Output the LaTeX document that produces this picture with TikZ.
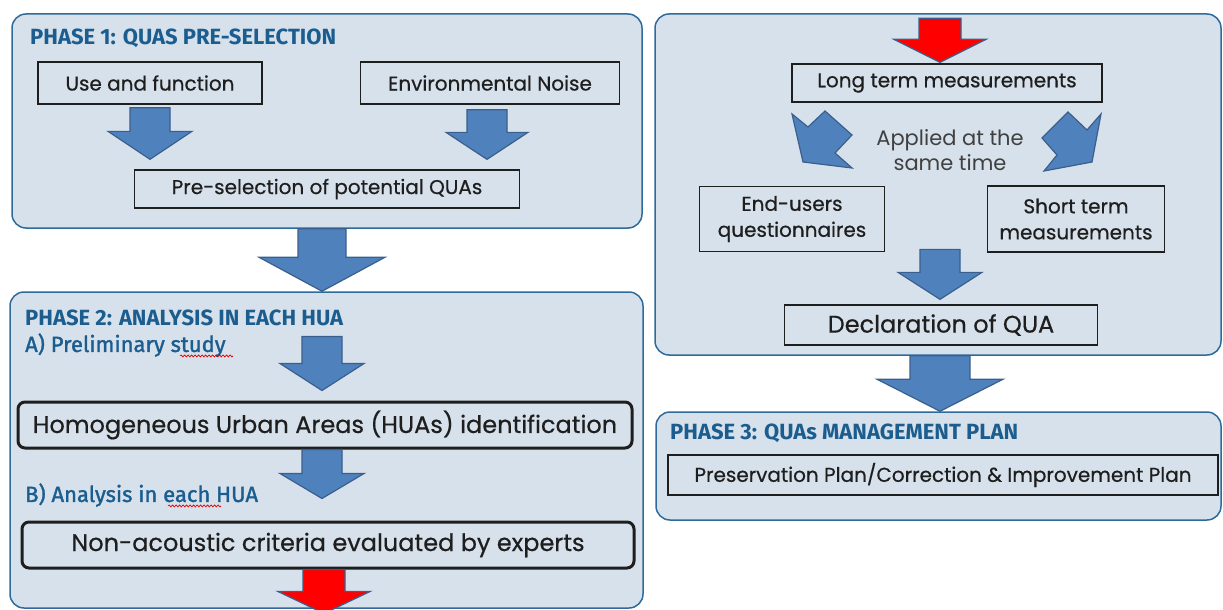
\documentclass[tikz,border=0pt]{standalone}
\usepackage{fontspec}
\setmainfont{Poppins}[FakeBold=0.5]
\newfontfamily\lightfont{Poppins}
\newfontfamily\titlefont{Fira Sans}
\usetikzlibrary{calc,positioning,decorations.pathmorphing}
\definecolor{panelfill}{HTML}{D7E1EB}
\definecolor{panelline}{HTML}{2F6B9A}
\definecolor{titleblue}{HTML}{1C5D8F}
\definecolor{arrblue}{HTML}{4F81BD}
\definecolor{arrline}{HTML}{3A5F8C}
\definecolor{arrred}{HTML}{FF0000}
\definecolor{boxline}{HTML}{1E1E1E}
\tikzset{
    panel/.style ={draw=panelline, fill=panelfill, line width=1.5pt, rounded corners=14, inner sep=0pt},
    stepbox/.style ={draw=boxline, line width=1.3pt, inner sep=2pt, align=center, text=boxline,
        font=\fontsize{20}{26}\selectfont},
    bigbox/.style ={stepbox, line width=3pt, rounded corners=7, font=\fontsize{24}{28}\selectfont},
    phasetitle/.style ={anchor=west, inner sep=0pt, text=titleblue, font=\titlefont\bfseries\fontsize{22}{24}\selectfont},
    subtitle/.style ={phasetitle, font=\titlefont\fontsize{22}{24}\selectfont\addfontfeature{FakeBold=1.5}},
    blkarr/.style ={draw=arrline, line width=1.2pt, line join=miter},
    squiggle/.style ={red!85!black, line width=0.7pt, decorate, decoration={snake, amplitude=1, segment length=3.5}}
}
% block arrow: [fill] {top} {tip} {shaft half width} {head half width} {head length}
\newcommand\blkarrow[6][arrblue]{%
    \path[blkarr, fill=#1] let \p1=#2, \p2=#3 in
        (\x1-#4,\y1) -- (\x1+#4,\y1) -- (\x1+#4,\y2+#6) -- (\x1+#5,\y2+#6)
        -- (\x1,\y2) -- (\x1-#5,\y2+#6) -- (\x1-#4,\y2+#6) -- cycle;}

\begin{document}
\begin{tikzpicture}[x=1pt, y=-1pt]

    \useasboundingbox (0,0) rectangle (1223,610);

    % panels
    \node[panel, minimum width=630, minimum height=214] (p1) at (327,121) {};
    \node[panel, minimum width=633, minimum height=316] (p2) at (326.5,450) {};
    \node[panel, minimum width=566, minimum height=341] (pr) at (938,184.5) {};
    \node[panel, minimum width=565, minimum height=108] (p3) at (938.5,466) {};

    % phase 1
    \node[phasetitle] (t1) at (30,38) {PHASE 1: QUAS PRE-SELECTION};
    \node[stepbox, minimum width=224, minimum height=42] (use) at (150,83) {Use and function};
    \node[stepbox, minimum width=259, minimum height=42] (env) at (490,83) {Environmental Noise};
    \node[stepbox, minimum width=385, minimum height=38] (pre) at (327,189) {Pre-selection of potential QUAs};

    \blkarrow{($(use.south)+(0,3)$)}{($(pre.north)+(0,-10)$)}{20}{42}{28}
    \blkarrow{($(env.south)+(-3,5)$)}{($(pre.north)+(0,-10)$)}{20}{41}{27}
    \blkarrow{($(p1.south)+(-5,0)$)}{(p2.north)}{24}{63}{34}

    % phase 2
    \node[phasetitle] (t2) at (25,318) {PHASE 2: ANALYSIS IN EACH HUA};
    \node[subtitle] (sa) at (25,345) {A) Preliminary study};
    \node[bigbox, minimum width=614, minimum height=46] (hua) at (325,425) {Homogeneous Urban Areas (HUAs) identification};
    \node[subtitle] (sb) at (25,495) {B) Analysis in each HUA};
    \node[bigbox, minimum width=612, minimum height=46] (nonac) at (328,545) {Non-acoustic criteria evaluated by experts};
    \draw[squiggle] ($(sa.base west)+(155,4)$) -- ($(sa.base west)+(208,4)$);
    \draw[squiggle] ($(sb.base west)+(143,4)$) -- ($(sb.base west)+(196,4)$);

    \blkarrow{($(hua.north)+(-3,-64)$)}{($(hua.north)+(0,-10)$)}{20}{42}{27}
    \blkarrow{($(hua.south)+(-3,0)$)}{($(nonac.north)+(0,-22)$)}{20}{42}{25}
    \blkarrow[arrred]{($(nonac.south)+(-4,0)$)}{($(nonac.south)+(0,44)$)}{21}{46}{22}

    % measurements
    \node[stepbox, minimum width=310, minimum height=38] (lt) at (947,83) {Long term measurements};
    \node[align=center, text=black!75, font=\lightfont\fontsize{21}{25}\selectfont] (appl) at (950,150) {Applied at the\\same time};
    \node[stepbox, minimum width=185, minimum height=65] (eu) at (792,219) {End-users\\questionnaires};
    \node[stepbox, minimum width=177, minimum height=66] (st) at (1076,219) {Short term\\measurements};
    \node[stepbox, minimum width=313, minimum height=40, font=\fontsize{24}{28}\selectfont] (decl) at (941,325) {Declaration of QUA};

    \blkarrow[arrred]{($(lt.north)+(-7,-45)$)}{($(lt.north)+(-7,-1)$)}{21}{46}{23}
    \draw[blkarr, fill=arrblue, shift={(appl.center)}]
        (-158,-36) -- (-142,-23) -- (-125,-39) -- (-98,-15) -- (-115,3) -- (-98,18) -- (-147,12) -- cycle;
    \draw[blkarr, fill=arrblue, shift={(appl.center)}]
        (118,-38) -- (137,-20) -- (151,-36) -- (142,12) -- (94,21) -- (107,5) -- (92,-12) -- cycle;
    \blkarrow{($(decl.north)+(-1,-55)$)}{($(decl.north)+(-1,-5)$)}{20}{42}{27}
    \blkarrow{($(pr.south)+(2,0)$)}{($(p3.north)+(2,0)$)}{30}{63}{32}

    % phase 3
    \node[phasetitle] (t3) at (670,433) {PHASE 3: QUAs MANAGEMENT PLAN};
    \node[stepbox, minimum width=550, minimum height=40] (pres) at (943,475) {Preservation Plan/Correction \& Improvement Plan};

\end{tikzpicture}
\end{document}
